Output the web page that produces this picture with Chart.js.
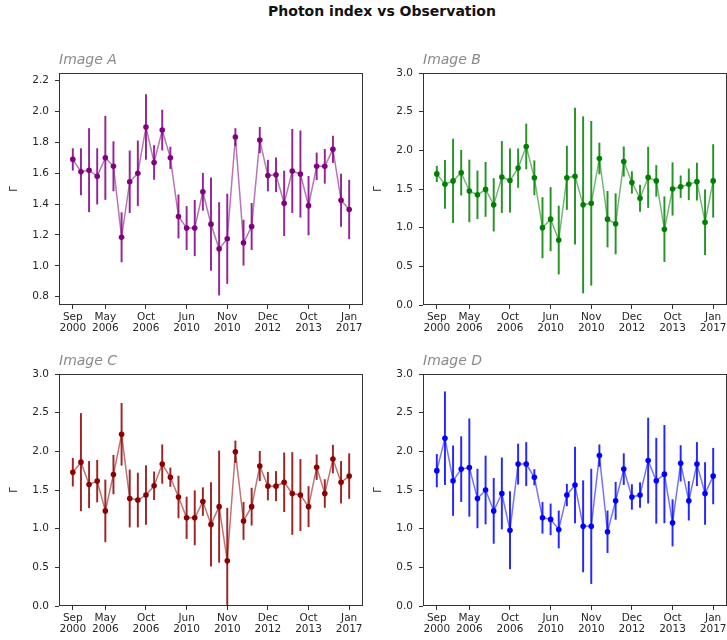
<!DOCTYPE html>
<html>
<head>
<meta charset="utf-8">
<script src="https://cdn.jsdelivr.net/npm/chart.js@4.4.0/dist/chart.umd.min.js"></script>
<style>
  html, body { margin: 0; padding: 0; background: #fff; overflow: hidden; width: 727px; height: 640px; }
  #suptitle { position: absolute; left: 382px; top: 3px; transform: translateX(-50%);
              font: bold 14px "DejaVu Sans", sans-serif; color: #111; white-space: nowrap; }
  canvas.panel { position: absolute; }
</style>
</head>
<body>
<div id="suptitle">Photon index vs Observation</div>
<canvas id="panelA" class="panel" width="371" height="302" style="left:4px;top:43px"></canvas>
<canvas id="panelB" class="panel" width="371" height="302" style="left:368px;top:43px"></canvas>
<canvas id="panelC" class="panel" width="371" height="302" style="left:4px;top:344px"></canvas>
<canvas id="panelD" class="panel" width="371" height="302" style="left:368px;top:344px"></canvas>
<script>
// Observation number of each measurement
const observation = [0,1,2,3,4,5,6,7,8,9,10,11,12,13,14,15,16,17,18,19,20,21,22,23,24,25,26,27,28,29,30,31,32,33,34];

// Observations that carry a date label on the x axis
const dateTickIndex = [0, 4, 9, 14, 19, 24, 29, 34];
const dateTickLabels = [["Sep","2000"],["May","2006"],["Oct","2006"],["Jun","2010"],
                        ["Nov","2010"],["Dec","2012"],["Oct","2013"],["Jan","2017"]];

// Photon index (Γ) and its 1σ error for each image
const gammaA = [1.69,1.61,1.62,1.58,1.70,1.645,1.185,1.545,1.60,1.90,1.67,1.88,1.70,1.32,1.245,1.245,1.48,1.27,1.11,1.175,1.835,1.15,1.255,1.815,1.585,1.59,1.405,1.615,1.595,1.39,1.645,1.645,1.755,1.425,1.365];
const errA   = [0.07,0.15,0.27,0.18,0.27,0.16,0.16,0.20,0.21,0.21,0.11,0.13,0.07,0.14,0.14,0.18,0.12,0.30,0.30,0.29,0.055,0.146,0.15,0.083,0.10,0.11,0.21,0.27,0.28,0.19,0.087,0.11,0.086,0.17,0.19];

const gammaB = [1.695,1.56,1.605,1.71,1.475,1.425,1.495,1.295,1.655,1.61,1.77,2.05,1.645,1.00,1.11,0.84,1.645,1.665,1.295,1.315,1.895,1.11,1.05,1.855,1.585,1.38,1.65,1.605,0.98,1.50,1.53,1.56,1.595,1.07,1.605];
const errB   = [0.10,0.31,0.54,0.29,0.40,0.31,0.35,0.34,0.46,0.41,0.25,0.29,0.22,0.39,0.41,0.44,0.41,0.88,1.14,1.06,0.20,0.36,0.39,0.19,0.14,0.17,0.39,0.20,0.42,0.34,0.14,0.20,0.24,0.42,0.47];

const gammaC = [1.73,1.86,1.57,1.615,1.23,1.70,2.22,1.39,1.37,1.435,1.555,1.835,1.665,1.41,1.14,1.14,1.35,1.055,1.285,0.585,1.995,1.10,1.285,1.81,1.55,1.55,1.60,1.455,1.435,1.285,1.795,1.455,1.90,1.60,1.68];
const errC   = [0.18,0.63,0.30,0.27,0.40,0.25,0.40,0.37,0.35,0.38,0.18,0.25,0.12,0.27,0.27,0.35,0.18,0.54,0.72,0.68,0.14,0.24,0.24,0.19,0.18,0.19,0.38,0.53,0.46,0.26,0.16,0.18,0.18,0.27,0.29];

const gammaD = [1.75,2.17,1.62,1.77,1.79,1.39,1.50,1.23,1.455,0.98,1.835,1.835,1.665,1.14,1.12,0.99,1.435,1.565,1.03,1.03,1.945,0.96,1.36,1.77,1.41,1.435,1.88,1.62,1.705,1.075,1.845,1.36,1.835,1.455,1.68];
const errD   = [0.21,0.60,0.45,0.42,0.63,0.38,0.44,0.42,0.46,0.50,0.26,0.28,0.10,0.20,0.20,0.24,0.14,0.49,0.59,0.74,0.14,0.27,0.24,0.20,0.16,0.16,0.55,0.55,0.63,0.30,0.23,0.25,0.28,0.40,0.36];

// y-axis ticks
const yTicksA = [0.8, 1.0, 1.2, 1.4, 1.6, 1.8, 2.0, 2.2];
const yTicksFixed = [0.0, 0.5, 1.0, 1.5, 2.0, 2.5, 3.0];

const TICK_FONT = { family: "DejaVu Sans", size: 10.5, lineHeight: 1.12 };
const TEXT = "#262626";
const SPINE = "#333";

// closed box around the plotting area
const framePlugin = {
  id: "frame",
  afterDatasetsDraw(chart) {
    const { ctx, chartArea: a } = chart;
    ctx.save();
    ctx.strokeStyle = SPINE;
    ctx.lineWidth = 1;
    ctx.strokeRect(Math.round(a.left) + 0.5, Math.round(a.top) + 0.5,
                   Math.round(a.right - a.left) - 1, Math.round(a.bottom - a.top) - 1);
    ctx.restore();
  }
};

function panel(id, title, rgb, values, errors, yMin, yMax, yTicks) {
  const solid = `rgb(${rgb})`;
  const faded = `rgba(${rgb},0.55)`;
  const bars = `rgba(${rgb},0.85)`;
  new Chart(document.getElementById(id), {
    type: "line",
    data: {
      datasets: [
        {
          type: "line",
          data: observation.map((x, i) => ({ x, y: values[i] })),
          borderColor: faded,
          borderWidth: 1.5,
          tension: 0,
          pointRadius: 2.8,
          pointHoverRadius: 2.8,
          pointBackgroundColor: solid,
          pointBorderColor: solid,
          pointBorderWidth: 0,
          order: 0
        },
        {
          type: "bar",
          data: observation.map((x, i) => ({ x, y: [values[i] - errors[i], values[i] + errors[i]] })),
          backgroundColor: bars,
          borderWidth: 0,
          barThickness: 1.3,
          grouped: false,
          order: 1
        }
      ]
    },
    options: {
      responsive: false,
      animation: false,
      devicePixelRatio: 1,
      events: [],
      layout: { padding: { top: 9, right: 12, bottom: 0, left: 0 } },
      plugins: {
        legend: { display: false },
        tooltip: { enabled: false },
        title: {
          display: true,
          text: title,
          align: "start",
          fullSize: false,
          color: "#8a8a8a",
          font: { family: "DejaVu Sans", style: "italic", weight: "normal", size: 14, lineHeight: 1.2 },
          padding: { top: 0, bottom: 4.2 }
        }
      },
      scales: {
        x: {
          type: "linear",
          min: -1.7,
          max: 35.7,
          offset: false,
          grid: { display: true, offset: false, drawOnChartArea: false, drawTicks: true, tickLength: 4, color: SPINE },
          border: { display: false },
          afterBuildTicks: s => { s.ticks = dateTickIndex.map(v => ({ value: v })); },
          afterFit: s => { s.height = 40; },
          ticks: {
            autoSkip: false, maxRotation: 0, minRotation: 0, padding: 2,
            color: TEXT, font: TICK_FONT,
            callback: (v, i) => dateTickLabels[i]
          }
        },
        y: {
          type: "linear",
          min: yMin,
          max: yMax,
          grid: { display: true, drawOnChartArea: false, drawTicks: true, tickLength: 4, color: SPINE },
          border: { display: false },
          afterBuildTicks: s => { s.ticks = yTicks.map(v => ({ value: v })); },
          afterFit: s => { s.width = 55; },
          ticks: { padding: 6, color: TEXT, font: TICK_FONT, callback: v => Number(v).toFixed(1) },
          title: { display: true, text: "Γ", color: TEXT, font: { family: "DejaVu Sans", size: 10 }, padding: { top: 4, bottom: 0 } }
        }
      }
    },
    plugins: [framePlugin]
  });
}

panel("panelA", "Image A", "128,0,128", gammaA, errA, 0.746, 2.25, yTicksA);
panel("panelB", "Image B", "0,128,0",   gammaB, errB, 0, 3, yTicksFixed);
panel("panelC", "Image C", "139,0,0",   gammaC, errC, 0, 3, yTicksFixed);
panel("panelD", "Image D", "0,0,255",   gammaD, errD, 0, 3, yTicksFixed);
</script>
</body>
</html>
